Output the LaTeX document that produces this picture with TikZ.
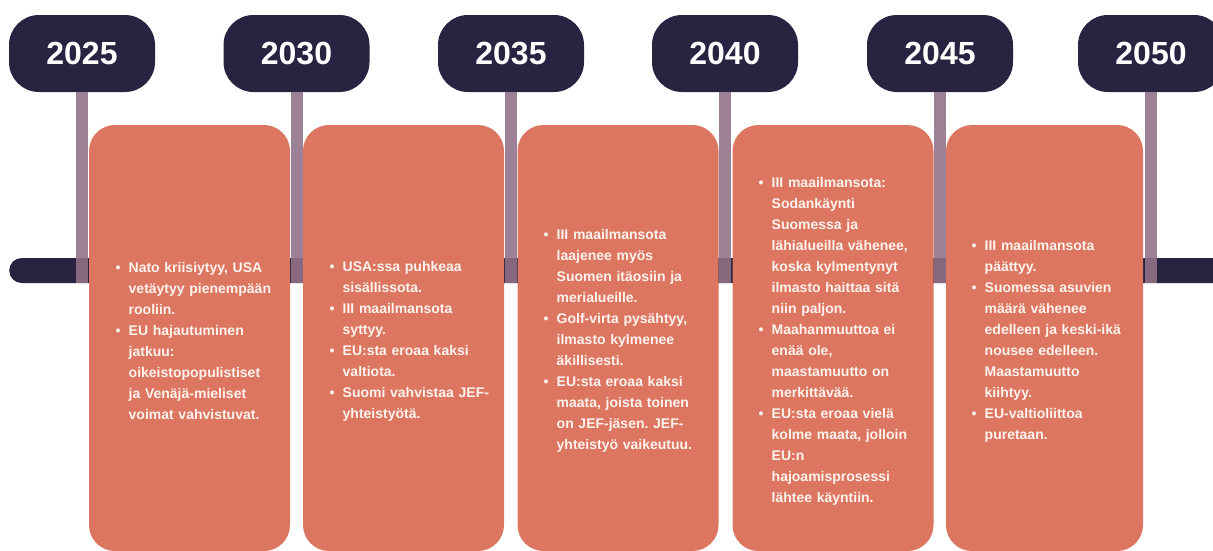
\documentclass[tikz,border=0pt]{standalone}
\usepackage{fontspec}
\setmainfont{Liberation Sans}
\definecolor{navy}{HTML}{272341}
\definecolor{salmon}{HTML}{DD7660}
\definecolor{mauve}{HTML}{9C8197}
\definecolor{mauvedark}{HTML}{86697F}
\definecolor{cardtext}{HTML}{FDF3EE}
\frenchspacing
\newcommand\bi[1]{\noindent\makebox[13pt][l]{\textbullet}#1}
\newcommand\ci[1]{\noindent\hspace*{13pt}#1}
\begin{document}
\begin{tikzpicture}[x=1pt,y=-1pt,
  pill/.style={fill=navy, rounded corners=30pt, minimum width=146pt, minimum height=77pt,
    text=white, font=\fontsize{32}{36}\selectfont\bfseries, inner sep=0pt},
  card/.style={fill=salmon, rounded corners=26pt, minimum width=201pt, minimum height=426pt, inner sep=0pt},
  stemline/.style={draw=mauve, line width=12pt},
  stemdark/.style={draw=mauvedark, line width=12pt},
  cardtxt/.style={text width=170pt, align=left, text=cardtext, anchor=west, inner sep=0pt,
    font=\fontsize{14}{21}\selectfont\bfseries\frenchspacing}]
\useasboundingbox (0,0) rectangle (1213,550);
\clip (0,0) rectangle (1213,550);
% timeline bar
\node[fill=navy, rounded corners=12.5pt, minimum width=1230pt, minimum height=25pt, inner sep=0pt, anchor=west] (bar) at (9,270.5) {};
% year pills
\node[pill] (p1) at (82,53.5) {2025};
\node[pill] (p2) at (296.5,53.5) {2030};
\node[pill] (p3) at (511,53.5) {2035};
\node[pill] (p4) at (725,53.5) {2040};
\node[pill] (p5) at (940,53.5) {2045};
\node[pill] (p6) at (1151,53.5) {2050};
% stems
\foreach \i in {1,...,6}{
  \coordinate (s\i) at (p\i.south |- bar.south);
  \coordinate (n\i) at (p\i.south |- bar.north);
  \draw[stemline] (p\i.south) -- (n\i);
  \draw[stemdark] (n\i) -- (s\i);
}
% cards
\node[card] (c1) at (189.5,338) {};
\node[card] (c2) at (403.5,338) {};
\node[card] (c3) at (618,338) {};
\node[card] (c4) at (833,338) {};
\node[card, minimum width=197pt] (c5) at (1044.5,338) {};
% texts
\node[cardtxt] (t1) at (115.5,341) {\bi{Nato kriisiytyy, USA}\\ \ci{vetäytyy pienempään}\\ \ci{rooliin.}\\
  \bi{EU hajautuminen}\\ \ci{jatkuu:}\\ \ci{oikeistopopulistiset}\\ \ci{ja Venäjä-mieliset}\\ \ci{voimat vahvistuvat.}};
\node[cardtxt] (t2) at (329.5,341) {\bi{USA:ssa puhkeaa}\\ \ci{sisällissota.}\\
  \bi{III maailmansota}\\ \ci{syttyy.}\\
  \bi{EU:sta eroaa kaksi}\\ \ci{valtiota.}\\
  \bi{Suomi vahvistaa JEF-}\\ \ci{yhteistyötä.}};
\node[cardtxt] (t3) at (543.5,341) {\bi{III maailmansota}\\ \ci{laajenee myös}\\ \ci{Suomen itäosiin ja}\\ \ci{merialueille.}\\
  \bi{Golf-virta pysähtyy,}\\ \ci{ilmasto kylmenee}\\ \ci{äkillisesti.}\\
  \bi{EU:sta eroaa kaksi}\\ \ci{maata, joista toinen}\\ \ci{on JEF-jäsen. JEF-}\\ \ci{yhteistyö vaikeutuu.}};
\node[cardtxt] (t4) at (758.5,341) {\bi{III maailmansota:}\\ \ci{Sodankäynti}\\ \ci{Suomessa ja}\\ \ci{lähialueilla vähenee,}\\ \ci{koska kylmentynyt}\\ \ci{ilmasto haittaa sitä}\\ \ci{niin paljon.}\\
  \bi{Maahanmuuttoa ei}\\ \ci{enää ole,}\\ \ci{maastamuutto on}\\ \ci{merkittävää.}\\
  \bi{EU:sta eroaa vielä}\\ \ci{kolme maata, jolloin}\\ \ci{EU:n}\\ \ci{hajoamisprosessi}\\ \ci{lähtee käyntiin.}};
\node[cardtxt] (t5) at (971.5,341) {\bi{III maailmansota}\\ \ci{päättyy.}\\
  \bi{Suomessa asuvien}\\ \ci{määrä vähenee}\\ \ci{edelleen ja keski-ikä}\\ \ci{nousee edelleen.}\\ \ci{Maastamuutto}\\ \ci{kiihtyy.}\\
  \bi{EU-valtioliittoa}\\ \ci{puretaan.}};
\end{tikzpicture}
\end{document}
